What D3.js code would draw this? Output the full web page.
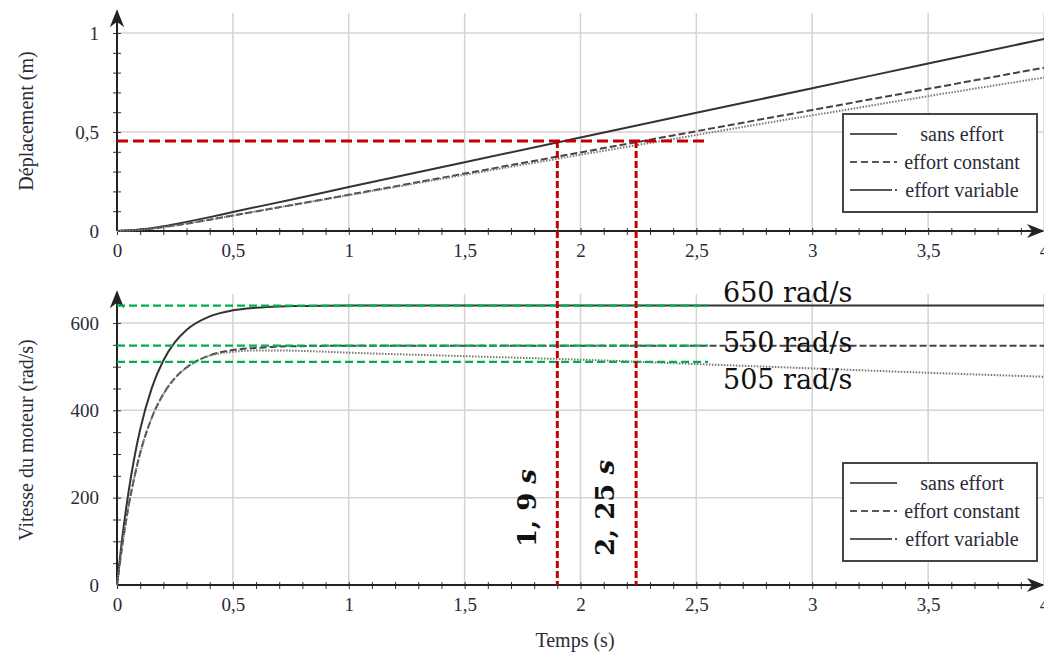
<!DOCTYPE html>
<html>
<head>
<meta charset="utf-8">
<script src="https://cdn.jsdelivr.net/npm/d3@7"></script>
<style>
  body { margin: 0; background: #fff; }
  svg { display: block; }
  .tick text { font-family: "Liberation Serif", serif; font-size: 19px; fill: #2a2a3a; }
  .lbl { font-family: "Liberation Serif", serif; font-size: 20px; fill: #2a2a3a; }
</style>
</head>
<body>
<svg id="chart" width="1044" height="654"></svg>
<script>
// temps (s) et courbes
const tDisp = [0, 0.1, 0.2, 0.3, 0.4, 0.5, 0.75, 1, 1.5, 2, 2.5, 3, 3.5, 4];
const dispSans = [0, 0.007, 0.024, 0.046, 0.07, 0.096, 0.158, 0.222, 0.347, 0.472, 0.597, 0.721, 0.846, 0.97];
const dispConst = [0, 0.006, 0.02, 0.037, 0.057, 0.078, 0.13, 0.183, 0.29, 0.397, 0.504, 0.611, 0.718, 0.825];
const dispVar = [0, 0.006, 0.02, 0.037, 0.057, 0.078, 0.13, 0.181, 0.284, 0.385, 0.485, 0.584, 0.681, 0.775];

const tSpeed = [0, 0.025, 0.05, 0.075, 0.1, 0.15, 0.2, 0.25, 0.3, 0.4, 0.5, 0.6, 0.7, 0.8, 1, 1.5, 2, 2.5, 3, 3.5, 4];
const speedSans = [0, 118, 214, 292, 356, 451, 514, 556, 584, 615, 629, 635, 638, 639, 640, 640, 640, 640, 640, 640, 640];
const speedConst = [0, 99, 181, 247, 302, 383, 437, 474, 498, 526, 538, 543, 546, 547, 548, 548, 548, 548, 548, 548, 548];
const speedVar = [0, 99, 181, 247, 302, 383, 437, 474, 498, 525, 534, 537, 537, 536, 532, 524, 516, 506, 496, 486, 477];

const xTicks = [0, 0.5, 1, 1.5, 2, 2.5, 3, 3.5, 4];
const dispTicks = [0, 0.5, 1];
const speedTicks = [0, 200, 400, 600];
const legendNames = ["sans effort", "effort constant", "effort variable"];

// annotations
const greenLevels = [640, 548, 511];
const speedNotes = ["650 rad/s", "550 rad/s", "505 rad/s"];
const redLevel = 0.455;
const redTimes = [1.9, 2.24];
const timeNotes = ["1, 9 ", "2, 25 "];
const annotEnd = 2.55;

const svg = d3.select("#chart");
const fmt = d => String(d).replace(".", ",");

const x = d3.scaleLinear().domain([0, 4]).range([117, 1044]);
const yD = d3.scaleLinear().domain([0, 1]).range([231, 33]);
const yV = d3.scaleLinear().domain([0, 600]).range([585, 323]);

const styles = [
  { stroke: "#333", dash: null, w: 2 },
  { stroke: "#444", dash: "7,3", w: 2 },
  { stroke: "#777", dash: "1.5,1.5", w: 2 }
];

svg.append("defs").append("marker")
  .attr("id", "arrow").attr("viewBox", "0 0 10 10")
  .attr("refX", 9).attr("refY", 5)
  .attr("markerWidth", 9).attr("markerHeight", 9)
  .attr("orient", "auto-start-reverse")
  .append("path").attr("d", "M0,1 L10,5 L0,9 L3,5 Z").attr("fill", "#222");

function panel(y, yTicks, yMinor, yTop, seriesT, series, legendTop) {
  const g = svg.append("g");
  const y0 = y(0);

  // grille
  g.selectAll(".vg").data(xTicks.slice(1)).join("line")
    .attr("x1", d => x(d)).attr("x2", d => x(d))
    .attr("y1", yTop).attr("y2", y0)
    .attr("stroke", "#d4d4d4").attr("stroke-width", 1.5);
  g.selectAll(".hg").data(yTicks.slice(1)).join("line")
    .attr("x1", x(0)).attr("x2", x(4))
    .attr("y1", d => y(d)).attr("y2", d => y(d))
    .attr("stroke", "#d4d4d4").attr("stroke-width", 1.5);

  // petites graduations
  const xm = g.append("g").attr("transform", `translate(0,${y0})`)
    .call(d3.axisBottom(x).tickValues(d3.range(0, 40).map(i => i / 10)).tickFormat(""));
  xm.select(".domain").remove();
  xm.selectAll("line").attr("y1", -3).attr("y2", 4).attr("stroke", "#333");
  const ym = g.append("g").attr("transform", `translate(${x(0)},0)`)
    .call(d3.axisLeft(y).tickValues(yMinor).tickFormat(""));
  ym.select(".domain").remove();
  ym.selectAll("line").attr("x1", -4).attr("x2", 4).attr("stroke", "#333");

  // libellés
  const xl = g.append("g").attr("transform", `translate(0,${y0})`)
    .call(d3.axisBottom(x).tickValues(xTicks).tickSize(0).tickPadding(13).tickFormat(fmt));
  xl.select(".domain").remove();
  const yl = g.append("g").attr("transform", `translate(${x(0)},0)`)
    .call(d3.axisLeft(y).tickValues(yTicks).tickSize(0).tickPadding(18).tickFormat(fmt));
  yl.select(".domain").remove();

  // axes avec flèches
  g.append("line").attr("x1", x(0)).attr("x2", 1043).attr("y1", y0).attr("y2", y0)
    .attr("stroke", "#222").attr("stroke-width", 2).attr("marker-end", "url(#arrow)");
  g.append("line").attr("x1", x(0)).attr("x2", x(0)).attr("y1", y0).attr("y2", yTop - 2)
    .attr("stroke", "#222").attr("stroke-width", 2).attr("marker-end", "url(#arrow)");

  // courbes
  const line = d3.line().x((d, i) => x(seriesT[i])).y(d => y(d)).curve(d3.curveMonotoneX);
  series.forEach((s, k) => {
    g.append("path").datum(s).attr("d", line)
      .attr("fill", "none").attr("stroke", styles[k].stroke)
      .attr("stroke-width", styles[k].w).attr("stroke-dasharray", styles[k].dash);
  });

  // légende
  const lg = g.append("g");
  lg.append("rect").attr("x", 843).attr("y", legendTop).attr("width", 194).attr("height", 98)
    .attr("fill", "#fff").attr("stroke", "#444").attr("stroke-width", 2);
  const legDash = [null, "7,4", "42,3,2,20"];
  legendNames.forEach((name, k) => {
    const ly = legendTop + 20 + k * 28;
    lg.append("line").attr("x1", 850).attr("x2", 897).attr("y1", ly).attr("y2", ly)
      .attr("stroke", "#222").attr("stroke-width", 1.5).attr("stroke-dasharray", legDash[k]);
    lg.append("text").attr("class", "lbl").attr("x", 962).attr("y", ly)
      .attr("text-anchor", "middle").attr("dominant-baseline", "central").text(name);
  });
  return g;
}

panel(yD, dispTicks, d3.range(1, 11).map(i => i / 10), 13,
  tDisp, [dispSans, dispConst, dispVar], 114);
const gv = panel(yV, speedTicks, d3.range(1, 13).map(i => i * 50), 294,
  tSpeed, [speedSans, speedConst, speedVar], 463);

// titres d'axes
svg.append("text").attr("class", "lbl")
  .attr("transform", "translate(26,121) rotate(-90)")
  .attr("text-anchor", "middle").attr("dominant-baseline", "central").text("Déplacement (m)");
svg.append("text").attr("class", "lbl")
  .attr("transform", "translate(26,440) rotate(-90)")
  .attr("text-anchor", "middle").attr("dominant-baseline", "central").text("Vitesse du moteur (rad/s)");
svg.append("text").attr("class", "lbl").attr("x", 575).attr("y", 640)
  .attr("text-anchor", "middle").attr("dominant-baseline", "central").text("Temps (s)");

// lignes vertes
svg.selectAll(".green").data(greenLevels).join("line")
  .attr("x1", x(0)).attr("x2", x(annotEnd))
  .attr("y1", d => yV(d)).attr("y2", d => yV(d))
  .attr("stroke", "#00b050").attr("stroke-width", 2.2).attr("stroke-dasharray", "8,4");

const noteY = [302, 352, 389];
speedNotes.forEach((s, i) => {
  svg.append("text").attr("x", 723).attr("y", noteY[i])
    .attr("font-family", "DejaVu Serif").attr("font-size", 27).attr("fill", "#111").text(s);
});

// lignes rouges
svg.append("line").attr("x1", x(0)).attr("x2", x(annotEnd))
  .attr("y1", yD(redLevel)).attr("y2", yD(redLevel))
  .attr("stroke", "#c00000").attr("stroke-width", 3).attr("stroke-dasharray", "11,5");
svg.selectAll(".red").data(redTimes).join("line")
  .attr("x1", d => x(d)).attr("x2", d => x(d))
  .attr("y1", yD(redLevel)).attr("y2", yV(0))
  .attr("stroke", "#c00000").attr("stroke-width", 3).attr("stroke-dasharray", "7,3");

const noteX = [527, 605];
timeNotes.forEach((s, i) => {
  const t = svg.append("text")
    .attr("transform", `translate(${noteX[i]},508) rotate(-90)`)
    .attr("text-anchor", "middle").attr("dominant-baseline", "central")
    .attr("font-family", "DejaVu Serif").attr("font-weight", "bold")
    .attr("font-size", 26).attr("fill", "#111");
  t.append("tspan").text(s);
  t.append("tspan").attr("font-style", "italic").text("s");
});
</script>
</body>
</html>
